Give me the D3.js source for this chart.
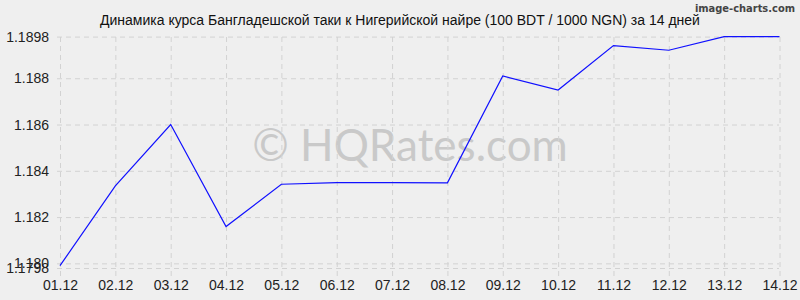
<!DOCTYPE html>
<html>
<head>
<meta charset="utf-8">
<script src="https://cdn.jsdelivr.net/npm/d3@7"></script>
<style>
  body { margin: 0; background: #efefef; }
  svg { display: block; font-family: "Liberation Sans", Arial, sans-serif; }
</style>
</head>
<body>
<svg id="chart" width="800" height="300"></svg>
<script>
// data
let dates = ["01.12", "02.12", "03.12", "04.12", "05.12", "06.12", "07.12",
             "08.12", "09.12", "10.12", "11.12", "12.12", "13.12", "14.12"];
let rates = [1.1799, 1.18335, 1.1860, 1.18159, 1.18342, 1.18349, 1.18349,
             1.18348, 1.1881, 1.18749, 1.18941, 1.18921, 1.1898, 1.1898];
let yTicks = [1.1798, 1.180, 1.182, 1.184, 1.186, 1.188, 1.1898];
let yTickLabels = ["1.1798", "1.180", "1.182", "1.184", "1.186", "1.188", "1.1898"];
let title = "Динамика курса Бангладешской таки к Нигерийской найре (100 BDT / 1000 NGN) за 14 дней";

let svg = d3.select("#chart");

// scales
let xScale = d3.scalePoint()
    .domain(dates)
    .range([60, 779.5]);
let yScale = d3.scaleLinear()
    .domain([1.1798, 1.1898])
    .range([268, 36.6]);

// watermark
svg.append("text")
    .attr("x", 410)
    .attr("y", 161)
    .attr("text-anchor", "middle")
    .attr("font-family", "Lato, 'Open Sans', sans-serif")
    .attr("font-size", 44)
    .attr("fill", "#c9c9c9")
    .text("© HQRates.com");

// horizontal grid
let yAxis = d3.axisLeft(yScale)
    .tickValues(yTicks)
    .tickFormat((d, i) => yTickLabels[i])
    .tickSize(-722)
    .tickPadding(8);
let gy = svg.append("g")
    .attr("transform", "translate(57,0)")
    .call(yAxis);
gy.select(".domain").remove();
gy.selectAll("line")
    .attr("stroke", "#d2d2d2")
    .attr("stroke-dasharray", "5,4");
gy.selectAll("text")
    .attr("font-size", 14)
    .attr("fill", "#222")
    .attr("font-family", "'Liberation Sans', Arial, sans-serif");

// vertical grid
let xAxis = d3.axisBottom(xScale)
    .tickSize(-240)
    .tickPadding(4);
let gx = svg.append("g")
    .attr("transform", "translate(0,276)")
    .call(xAxis);
gx.select(".domain").remove();
gx.selectAll("line")
    .attr("stroke", "#d2d2d2")
    .attr("stroke-dasharray", "5,4");
gx.selectAll("text")
    .attr("font-size", 14)
    .attr("fill", "#222")
    .attr("font-family", "'Liberation Sans', Arial, sans-serif");

// rate line
let line = d3.line()
    .x((d, i) => xScale(dates[i]))
    .y(d => yScale(d));
svg.append("path")
    .datum(rates)
    .attr("d", line)
    .attr("fill", "none")
    .attr("stroke", "#1010ff")
    .attr("stroke-width", 1.2);

// title
svg.append("text")
    .attr("x", 400)
    .attr("y", 25)
    .attr("text-anchor", "middle")
    .attr("font-size", 14)
    .attr("fill", "#111")
    .text(title);

// credit
svg.append("text")
    .attr("x", 795)
    .attr("y", 12)
    .attr("text-anchor", "end")
    .attr("font-family", "'Liberation Sans Narrow', 'DejaVu Sans Condensed', sans-serif")
    .attr("font-weight", "bold")
    .attr("font-size", 11)
    .attr("fill", "#444")
    .text("image-charts.com");
</script>
</body>
</html>
